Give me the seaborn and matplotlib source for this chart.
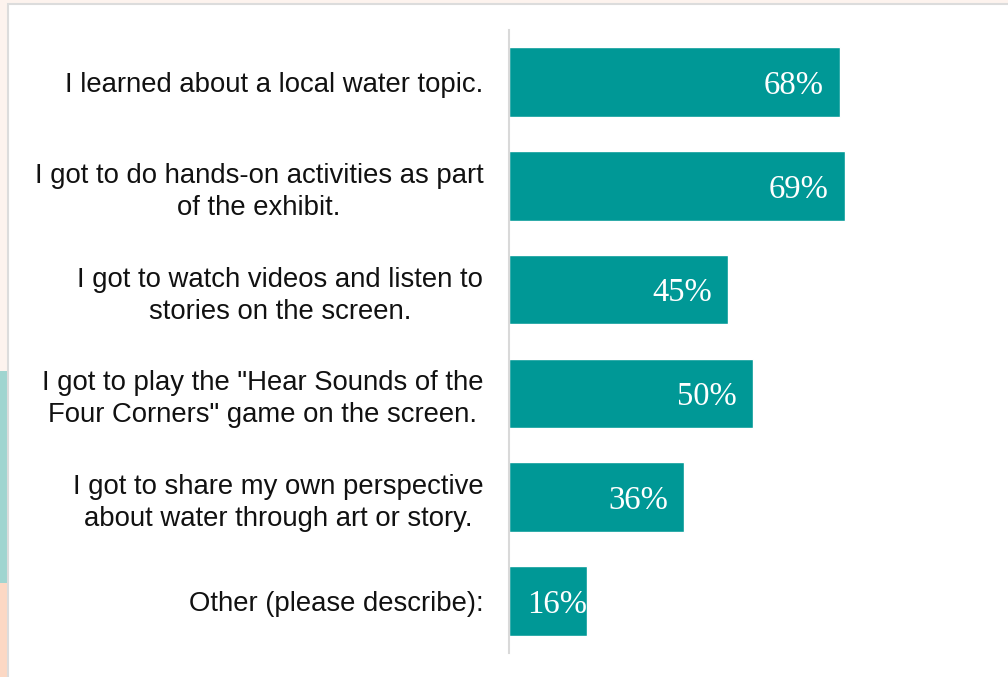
import matplotlib
matplotlib.use("Agg")
import matplotlib.pyplot as plt
from matplotlib.patches import Rectangle
import seaborn as sns
import pandas as pd

# Survey responses: what visitors experienced at the exhibit
categories = [
    "I learned about a local water topic.",
    "I got to do hands-on activities as part\nof the exhibit.",
    "I got to watch videos and listen to\nstories on the screen.",
    "I got to play the \"Hear Sounds of the\nFour Corners\" game on the screen.",
    "I got to share my own perspective\nabout water through art or story.",
    "Other (please describe):",
]
percent = [68, 69, 45, 50, 36, 16]
value_labels = ["68%", "69%", "45%", "50%", "36%", "16%"]

TEAL = "#009896"
W, H = 1008, 677

sns.set_theme(style="white")
plt.rcParams["font.family"] = ["Liberation Sans", "DejaVu Sans"]

fig = plt.figure(figsize=(W / 100, H / 100), dpi=100)
fig.patch.set_facecolor("#fdf3ee")

# slide decorations on the left edge
fig.add_artist(Rectangle((0, 0), 12 / W, (677 - 583) / H, transform=fig.transFigure,
                         facecolor="#fcd8c4", edgecolor="none", zorder=-3))
fig.add_artist(Rectangle((0, (677 - 583) / H), 12 / W, (583 - 371) / H,
                         transform=fig.transFigure, facecolor="#a0d5d0",
                         edgecolor="none", zorder=-3))
# white chart panel
fig.add_artist(Rectangle((8 / W, -0.01), (W - 8) / W + 0.01, (677 - 4) / H + 0.01,
                         transform=fig.transFigure, facecolor="white",
                         edgecolor="#dcdcdc", linewidth=1.5, zorder=-2))

ax = fig.add_axes([509 / W, (677 - 653) / H, 487 / W, 623 / H])
ax.set_zorder(2)
ax.set_facecolor("none")

df = pd.DataFrame({"category": categories, "percent": percent})
sns.barplot(data=df, x="percent", y="category", orient="h", color=TEAL,
            saturation=1, width=0.67, ax=ax)

ax.set_xlim(0, 100)
ax.set_xlabel("")
ax.set_ylabel("")
ax.set_xticks([])
ax.tick_params(axis="y", length=0, pad=18.5)
for lbl in ax.get_yticklabels():
    lbl.set_fontsize(19.8)
    lbl.set_color("#111111")
    lbl.set_multialignment("center")
    lbl.set_linespacing(1.3)

for side in ["top", "right", "bottom"]:
    ax.spines[side].set_visible(False)
ax.spines["left"].set_color("#d9d9d9")
ax.spines["left"].set_linewidth(1.5)

# value labels inside the bar ends
for i, (v, txt) in enumerate(zip(percent, value_labels)):
    ax.text(max(v - 3.3, 16.0), i, txt, ha="right", va="center_baseline",
            fontsize=23.5, color="white", family=["Liberation Serif", "DejaVu Serif"])

fig.savefig("out.png", dpi=100, facecolor=fig.get_facecolor())
